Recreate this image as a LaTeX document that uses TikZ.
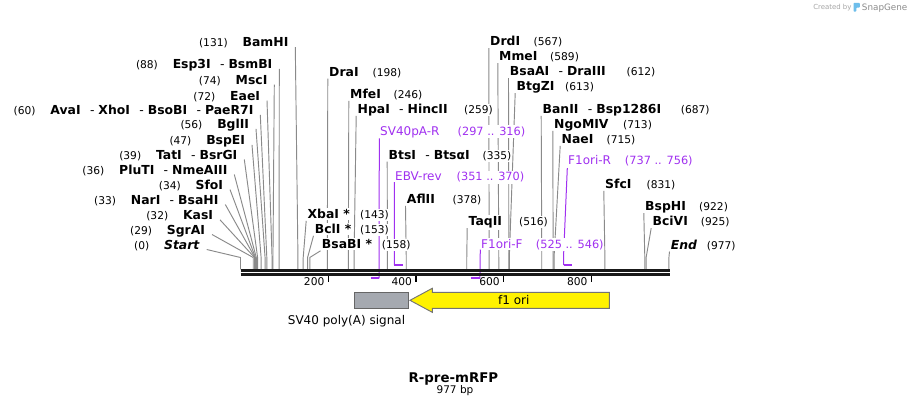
\documentclass[tikz,border=0pt]{standalone}
\usepackage{fontspec}
\setmainfont{DejaVu Sans}
\usetikzlibrary{backgrounds}
\definecolor{lgray}{RGB}{138,138,138}
\definecolor{prim}{RGB}{160,48,240}
\definecolor{featgray}{RGB}{165,169,176}
\definecolor{snapblue}{RGB}{110,190,235}
\newcommand{\esep}{\hspace{7pt}{\mdseries -}\hspace{3pt}}
\newcommand{\LeftEnz}[4]{%
  \coordinate (S#1) at ({240.5+0.4385*#1},269.3);
  \node[enzname, anchor=base east] (N#1) at (#2,#3) {#4};
  \node[enznum, anchor=base east] (P#1) at ([shift={(-13,0)}]N#1.base west) {(#1)};
  \begin{pgfonlayer}{background}
    \draw[enzline] ([shift={(6,0.5)}]N#1.base east) -- ([shift={(0,-11.8)}]S#1) -- (S#1);
  \end{pgfonlayer}}
\newcommand{\RightEnz}[5]{%
  \coordinate (S#1) at ({240.5+0.4385*#1},269.3);
  \node[enzname, anchor=base west] (N#1) at (#2,#3) {#4};
  \node[enznum, anchor=base west] (P#1) at (#5,#3) {(#1)};
  \begin{pgfonlayer}{background}
    \draw[enzline] ([shift={(-0.5,2.5)}]N#1.base west) -- ([shift={(0,-11.8)}]S#1) -- (S#1);
  \end{pgfonlayer}}
\tikzset{
  enzname/.style={font=\fontsize{9.3}{11}\selectfont\bfseries, fill=white, inner xsep=0.5pt, inner ysep=1pt},
  enznum/.style={font=\fontsize{8}{10}\selectfont, fill=white, inner xsep=0.5pt, inner ysep=1pt},
  enzline/.style={draw=lgray, line width=0.7pt},
  primname/.style={font=\fontsize{9}{11}\selectfont, text=prim, fill=white, inner xsep=0.5pt, inner ysep=1pt},
  primnum/.style={font=\fontsize{8.5}{10}\selectfont, text=prim, fill=white, inner xsep=0.5pt, inner ysep=1pt},
  primline/.style={draw=prim, line width=0.75pt},
  primbar/.style={draw=prim, line width=1.6pt},
  backbone/.style={draw=black!90, line width=1.9pt},
  tickline/.style={draw=black, line width=1pt},
  ticklbl/.style={font=\fontsize{8}{10}\selectfont, inner sep=0pt},
  featlbl/.style={font=\fontsize{9}{11}\selectfont, inner sep=0pt},
}
\begin{document}
\begin{tikzpicture}[x=0.75pt,y=-0.75pt]
\useasboundingbox (0,0) rectangle (911,408);
\begin{pgfonlayer}{background}
  \fill[white] (0,0) rectangle (911,408);
\end{pgfonlayer}

% ---- left cluster ----
\LeftEnz{131}{289.3}{46.7}{BamHI}
\LeftEnz{88}{273.3}{68.3}{Esp3I\esep BsmBI}
\LeftEnz{74}{268.3}{84}{MscI}
\LeftEnz{72}{261}{100}{EaeI}
\LeftEnz{60}{254.3}{114.3}{AvaI\esep XhoI\esep BsoBI\esep PaeR7I}
\LeftEnz{56}{250}{128.3}{BglII}
\LeftEnz{47}{246}{144.3}{BspEI}
\LeftEnz{39}{238.3}{159}{TatI\esep BsrGI}
\LeftEnz{36}{228.3}{174}{PluTI\esep NmeAIII}
\LeftEnz{34}{224}{189}{SfoI}
\LeftEnz{33}{219.3}{204}{NarI\esep BsaHI}
\LeftEnz{32}{214}{219.3}{KasI}
\LeftEnz{29}{206}{234}{SgrAI}
\LeftEnz{0}{200.7}{249}{\textit{Start}}

% ---- right-hand labels ----
\RightEnz{198}{328.3}{76}{DraI}{371.7}
\RightEnz{246}{349.3}{98.3}{MfeI}{392.7}
\RightEnz{259}{356.7}{113.3}{HpaI\esep HincII}{463.3}
\RightEnz{335}{387.7}{159}{BtsI\esep BtsαI}{481.7}
\RightEnz{378}{406}{203.3}{AflII}{451.7}
\RightEnz{143}{306.7}{218.3}{XbaI *}{359.3}
\RightEnz{153}{314}{233.3}{BclI *}{359.3}
\RightEnz{158}{321}{248.3}{BsaBI *}{381}
\RightEnz{516}{467.7}{225.7}{TaqII}{518.3}
\RightEnz{567}{489.3}{45.7}{DrdI}{532.7}
\RightEnz{589}{498.3}{60.7}{MmeI}{549.3}
\RightEnz{612}{509}{75.7}{BsaAI\esep DraIII}{625.7}
\RightEnz{613}{515.7}{90.7}{BtgZI}{564.3}
\RightEnz{687}{541.7}{113.3}{BanII\esep Bsp1286I}{680}
\RightEnz{713}{553.3}{128.3}{NgoMIV}{622.3}
\RightEnz{715}{560.7}{143.3}{NaeI}{605.7}
\RightEnz{831}{604.3}{188.3}{SfcI}{645.7}
\RightEnz{922}{644.3}{210.7}{BspHI}{698.3}
\RightEnz{925}{651.7}{225.7}{BciVI}{700}
\RightEnz{977}{670}{249}{\textit{End}}{706}

% ---- primers ----
\coordinate (SVa) at ({240.5+0.4385*297},278.3);
\coordinate (SVb) at ({240.5+0.4385*316},278.3);
\node[primname, anchor=base west] (SVn) at (379.3,135.3) {SV40pA-R};
\node[primnum, anchor=base west] (SVp) at (456.7,135.3) {(297 .. 316)};
\coordinate (EBa) at ({240.5+0.4385*351},265);
\coordinate (EBb) at ({240.5+0.4385*370},265);
\node[primname, anchor=base west] (EBn) at (394.3,180.7) {EBV-rev};
\node[primnum, anchor=base west] (EBp) at (455.7,180.7) {(351 .. 370)};
\coordinate (FFa) at ({240.5+0.4385*525},278.3);
\coordinate (FFb) at ({240.5+0.4385*546},278.3);
\node[primname, anchor=base west] (FFn) at (480.3,248) {F1ori-F};
\node[primnum, anchor=base west] (FFp) at (535,248) {(525 .. 546)};
\coordinate (FRa) at ({240.5+0.4385*737},265);
\coordinate (FRb) at ({240.5+0.4385*756},265);
\node[primname, anchor=base west] (FRn) at (567.3,164.7) {F1ori-R};
\node[primnum, anchor=base west] (FRp) at (624,164.7) {(737 .. 756)};
\begin{pgfonlayer}{background}
  \draw[primline] ([shift={(0,3)}]SVn.base west) -- (SVb);
  \draw[primline] ([shift={(0,1.5)}]EBn.base west) -- (EBa);
  \draw[primline] ([shift={(0,1.5)}]FFn.base west) -- (FFb);
  \draw[primline] ([shift={(0,3.5)}]FRn.base west) -- ([shift={(0,-11.8)}]FRa) -- (FRa);
\end{pgfonlayer}
\draw[primbar] (SVa) -- (SVb);
\draw[primbar] (EBa) -- (EBb);
\draw[primbar] (FFa) -- (FFb);
\draw[primbar] (FRa) -- (FRb);

% ---- backbone ----
\coordinate (BL) at (240.7,270.5);
\coordinate (BR) at (670,270.5);
\draw[backbone] (BL) -- (BR);
\draw[backbone] ([shift={(0,4.1)}]BL) -- ([shift={(0,4.1)}]BR);
\foreach \t in {200,400,600,800}{
  \coordinate (T\t) at ({240.5+0.4385*\t},276);
  \draw[tickline] (T\t) -- ++(0,6.3);
  \node[ticklbl, anchor=base east] (TL\t) at ([shift={(-3.6,9)}]T\t) {\t};
}

% ---- features ----
\draw[draw=black!60, fill=featgray, line width=0.7pt] (354.3,292.3) rectangle (408.3,308.3);
\node[featlbl, anchor=base] (svlbl) at (346.5,324.7) {SV40 poly(A) signal};
\draw[draw=black!55, fill=yellow, line width=0.7pt]
  (410,300.3) -- (432.3,288.3) -- (432.3,292.3) -- (609.3,292.3) -- (609.3,308.3)
  -- (432.3,308.3) -- (432.3,312.3) -- cycle;
\node[featlbl, anchor=base] (f1lbl) at (513.8,304) {f1 ori};

% ---- title ----
\node[font=\fontsize{10}{12}\selectfont\bfseries, inner sep=0pt, anchor=base] (title) at (453.4,382.3) {R-pre-mRFP};
\node[font=\fontsize{7.9}{10}\selectfont, inner sep=0pt, anchor=base] (size) at (455,393.3) {977 bp};

% ---- credit ----
\node[font=\fontsize{5.2}{6}\selectfont, text=black!35, inner sep=0pt, anchor=base east] (cb) at (851.7,9.8) {Created by};
\fill[snapblue, rounded corners=0.6pt] (853.5,11.7) -- (853.5,2.8) -- (859.8,2.8) -- (859.8,7.6) -- (856.3,7.6) -- (856.3,11.7) -- cycle;
\node[font=\fontsize{6.6}{8}\selectfont, text=black!45, inner sep=0pt, anchor=base west] (sg) at (861.7,10.4) {SnapGene};
\end{tikzpicture}
\end{document}
